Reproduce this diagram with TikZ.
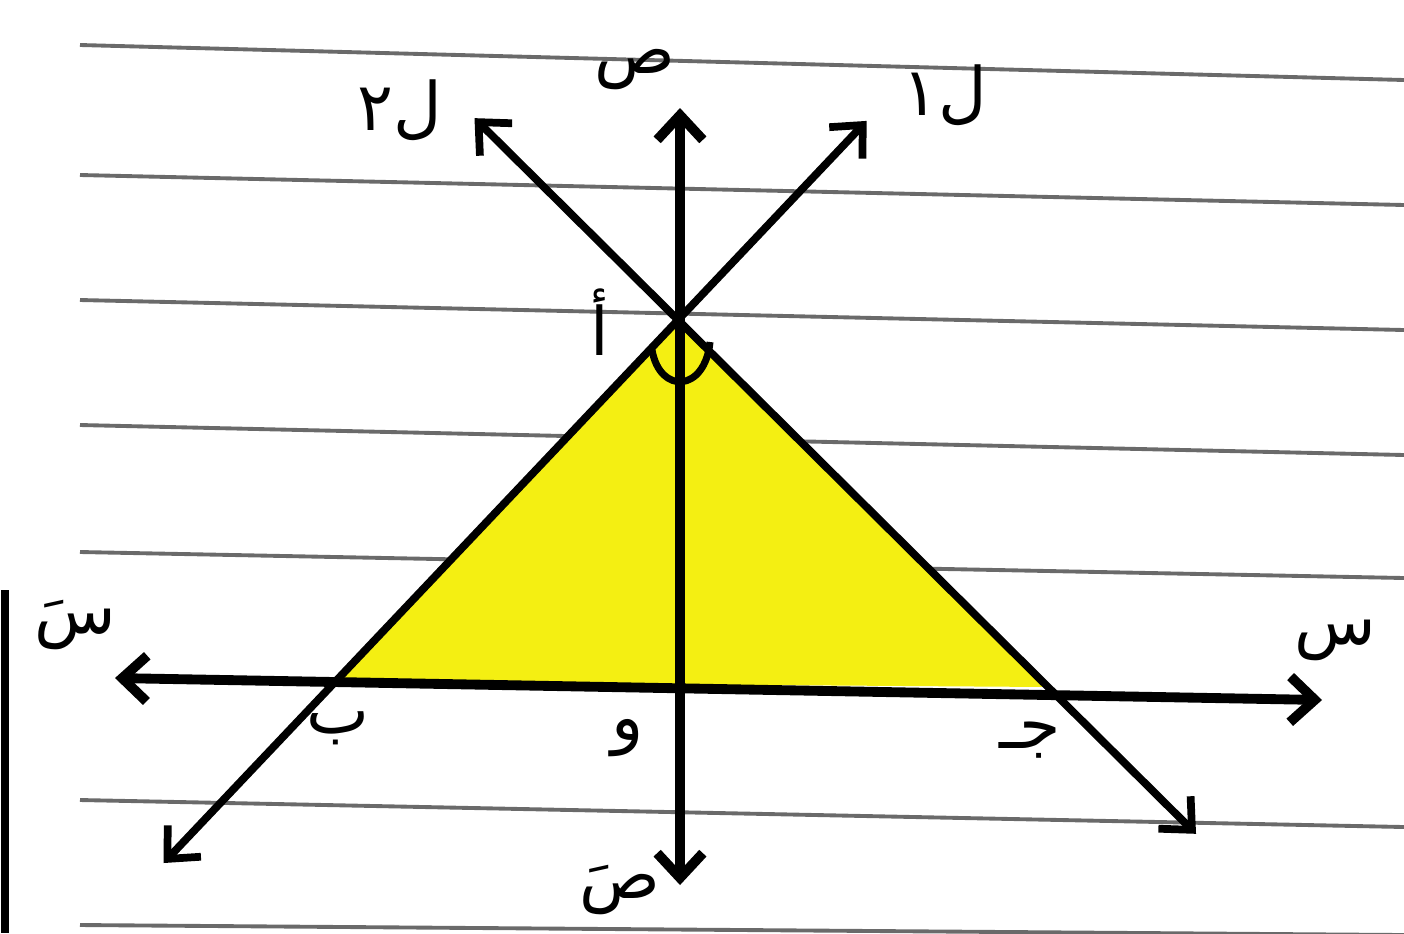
\documentclass[tikz,border=0pt]{standalone}
\usepackage{fontspec}
\usepackage{tikz}
\usetikzlibrary{arrows.meta,calc}
\newfontfamily\arabicfont[Script=Arabic]{DejaVu Sans}
\TeXXeTstate=1
\definecolor{triyellow}{HTML}{F4EF12}
\definecolor{paperline}{HTML}{6A6A6A}
\tikzset{
  axis/.style={line width=2.8pt,{Straight Barb[length=7pt,width=13pt]}-{Straight Barb[length=7pt,width=13pt]}},
  ray/.style={line width=2.2pt,{Straight Barb[length=7pt,width=13pt]}-{Straight Barb[length=7pt,width=13pt]}},
  lbl/.style={font=\arabicfont\fontsize{19}{23}\selectfont,inner sep=1pt}
}
\begin{document}
\begin{tikzpicture}[x=0.01cm,y=-0.01cm]
\useasboundingbox (0,0) rectangle (1404,933);
\fill[white] (0,0) rectangle (1404,933);
% ruled paper
\foreach \yl/\yr in {45/80,175/205,300/330,425/455,552/578,800/827,925/935} {\draw[paperline,line width=1.1pt] (80,\yl) -- (1404,\yr);}
\draw[line width=2.5pt] (5,590) -- (5,933);
% points
\coordinate (A) at (678,320);
\coordinate (B) at (335,682);
\coordinate (C) at (1048,687);
\coordinate (O) at (680,685);
% shaded triangle
\fill[triyellow] (A) -- (B) -- (C) -- cycle;
% axes
\coordinate (xl) at (115,678);
\coordinate (xr) at (1322,700);
\coordinate (yt) at (680,108);
\coordinate (yb) at (680,885);
\draw[axis] (xl) -- (xr);
\draw[axis] (yb) -- (yt);
% the two lines through A
\coordinate (l1a) at ($(A)!1.4!(C)$);
\coordinate (l1b) at ($(A)!-0.55!(C)$);
\coordinate (l2a) at ($(A)!1.5!(B)$);
\coordinate (l2b) at ($(A)!-0.55!(B)$);
\draw[ray] (l1a) -- (l1b);
\draw[ray] (l2a) -- (l2b);
% right angle at A
\draw[line width=2pt] (652,350) .. controls (660,395) and (705,392) .. (710,342);
% labels
\node[lbl] (tA) at (600,322) {\beginR أ\endR};
\node[lbl] (tB) at (338,728) {\beginR ب\endR};
\node[lbl] (tO) at (628,738) {\beginR و\endR};
\node[lbl] (tC) at (1030,740) {\beginR جـ\endR};
\node[lbl] (tx) at (1335,640) {\beginR س\endR};
\node[lbl] (txx) at (75,625) {\beginR سَ\endR};
\node[lbl] (ty) at (635,70) {\beginR ص\endR};
\node[lbl] (tyy) at (620,890) {\beginR صَ\endR};
\node[lbl] (tl1) at (400,110) {\beginR ل٢\endR};
\node[lbl] (tl2) at (945,95) {\beginR ل١\endR};
\end{tikzpicture}
\end{document}
